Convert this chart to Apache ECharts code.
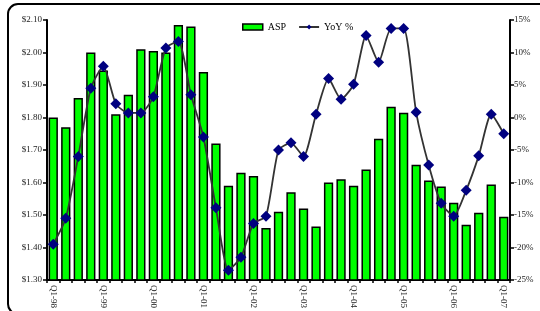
<!DOCTYPE html>
<html>
<head>
<meta charset="utf-8">
<script src="https://cdn.jsdelivr.net/npm/echarts@6/dist/echarts.min.js"></script>
<style>
html,body{margin:0;padding:0;background:#fff;}
#chart{width:540px;height:311px;}
</style>
</head>
<body>
<div id="chart"></div>
<script>
var quarters = ['Q1-98','Q2-98','Q3-98','Q4-98','Q1-99','Q2-99','Q3-99','Q4-99',
  'Q1-00','Q2-00','Q3-00','Q4-00','Q1-01','Q2-01','Q3-01','Q4-01',
  'Q1-02','Q2-02','Q3-02','Q4-02','Q1-03','Q2-03','Q3-03','Q4-03',
  'Q1-04','Q2-04','Q3-04','Q4-04','Q1-05','Q2-05','Q3-05','Q4-05',
  'Q1-06','Q2-06','Q3-06','Q4-06','Q1-07'];
var asp = [1.80,1.77,1.86,2.00,1.945,1.81,1.87,2.01,
  2.005,2.00,2.085,2.08,1.94,1.72,1.59,1.63,
  1.62,1.46,1.51,1.57,1.52,1.465,1.60,1.61,
  1.59,1.64,1.735,1.833,1.815,1.655,1.606,1.588,
  1.538,1.47,1.507,1.594,1.495];
var yoy = [-19.5,-15.5,-6.0,4.5,7.9,2.1,0.7,0.7,
  3.2,10.7,11.7,3.5,-3.0,-13.9,-23.5,-21.5,
  -16.3,-15.2,-5.0,-3.9,-6.0,0.5,6.0,2.8,
  5.1,12.6,8.5,13.7,13.7,0.8,-7.3,-13.2,
  -15.2,-11.2,-5.9,0.5,-2.5];
var leftTicks = {min:1.30, max:2.10, interval:0.10};
var rightTicks = {min:-25, max:15, interval:5};

var font = 'Liberation Serif';
var chart = echarts.init(document.getElementById('chart'), null, {renderer:'canvas'});
chart.setOption({
  backgroundColor:'#fff',
  animation:false,
  textStyle:{fontFamily:font},
  graphic:[{
    type:'rect', silent:true, z:-1,
    shape:{x:8,y:4,width:570,height:310,r:10},
    style:{fill:'none',stroke:'#000',lineWidth:2}
  }],
  legend:{
    top:17, left:237, itemGap:12, itemWidth:20, itemHeight:6,
    textStyle:{fontFamily:font,fontSize:10,color:'#000'},
    data:[
      {name:'ASP', icon:'rect', itemStyle:{color:'#00ff00',borderColor:'#000',borderWidth:1.5}},
      {name:'YoY %'}
    ]
  },
  grid:{left:47,right:30,top:20,bottom:31},
  xAxis:{
    type:'category', data:quarters, boundaryGap:true,
    axisLine:{onZero:false,lineStyle:{color:'#000',width:2}},
    axisTick:{show:true,alignWithLabel:false,interval:0,length:3,lineStyle:{color:'#000',width:1.5}},
    axisLabel:{interval:3,rotate:-90,fontFamily:font,fontSize:9,color:'#222',margin:5}
  },
  yAxis:[{
    type:'value', min:leftTicks.min, max:leftTicks.max, interval:leftTicks.interval,
    splitLine:{show:false},
    axisLine:{show:true,lineStyle:{color:'#000',width:2}},
    axisTick:{show:true,length:4,lineStyle:{color:'#000',width:1.5}},
    axisLabel:{fontFamily:font,fontSize:9,color:'#222',margin:5,
      formatter:function(v){return '$'+v.toFixed(2);}}
  },{
    type:'value', min:rightTicks.min, max:rightTicks.max, interval:rightTicks.interval,
    position:'right', splitLine:{show:false},
    axisLine:{show:true,lineStyle:{color:'#000',width:2}},
    axisTick:{show:true,length:4,lineStyle:{color:'#000',width:1.5}},
    axisLabel:{fontFamily:font,fontSize:9,color:'#222',margin:4,
      formatter:function(v){return v+'%';}}
  }],
  series:[{
    name:'ASP', type:'bar', data:asp, yAxisIndex:0,
    barCategoryGap:'26%',
    itemStyle:{color:'#00ff00',borderColor:'#000',borderWidth:1.5}
  },{
    name:'YoY %', type:'line', data:yoy, yAxisIndex:1,
    smooth:0.2, symbol:'diamond', symbolSize:11, showSymbol:true, showAllSymbol:true,
    lineStyle:{color:'#333',width:1.8},
    itemStyle:{color:'#000080'}
  }]
});
</script>
</body>
</html>
